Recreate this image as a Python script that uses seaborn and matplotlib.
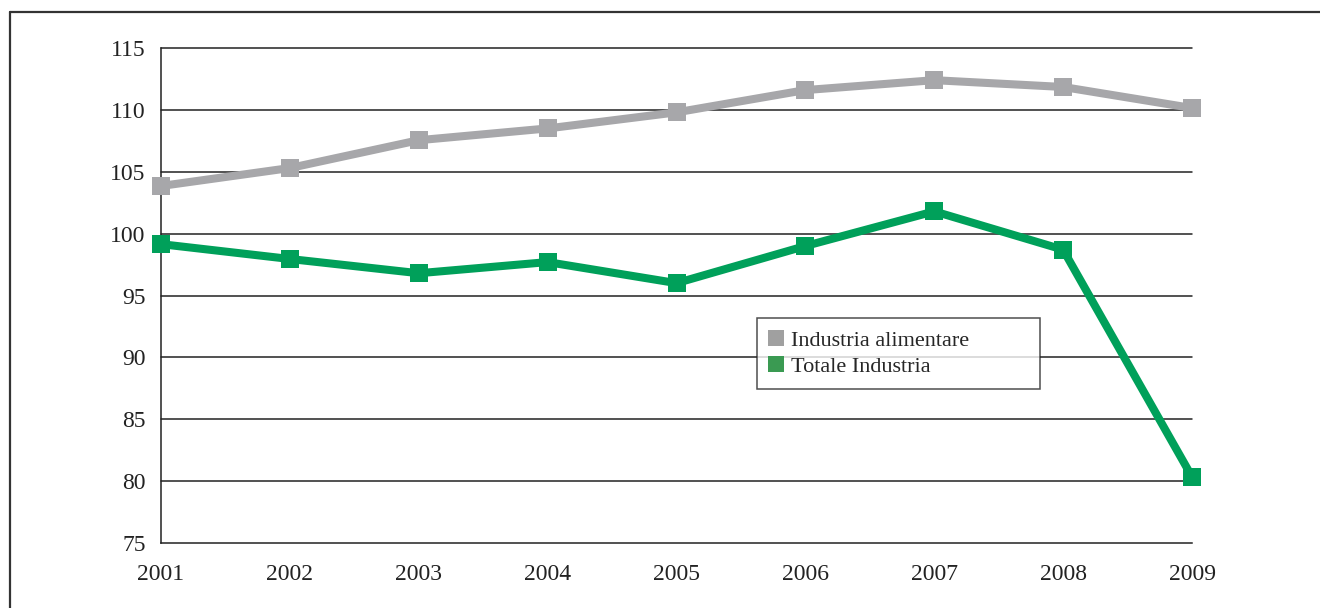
import matplotlib
matplotlib.use("Agg")
import matplotlib.pyplot as plt
from matplotlib.lines import Line2D
import seaborn as sns
import pandas as pd

years = [2001, 2002, 2003, 2004, 2005, 2006, 2007, 2008, 2009]
alimentare = [103.85, 105.3, 107.55, 108.5, 109.8, 111.6, 112.4, 111.85, 110.15]
totale = [99.15, 97.95, 96.8, 97.7, 96.0, 99.0, 101.8, 98.7, 80.35]
series_names = ["Industria alimentare", "Totale Industria"]
colors = ["#a7a7aa", "#00a05a"]
legend_colors = ["#a0a0a0", "#3a9a52"]
yticks = [75, 80, 85, 90, 95, 100, 105, 110, 115]

df = pd.DataFrame({
    "year": years * 2,
    "value": alimentare + totale,
    "serie": [series_names[0]] * len(years) + [series_names[1]] * len(years),
})

sns.set_style("white")
plt.rcParams["font.family"] = ["Liberation Serif", "DejaVu Serif"]

fig = plt.figure(figsize=(13.2, 6.08), dpi=100)
ax_w = (1192 - 161)
ax_h = (543 - 48)
ax = fig.add_axes([161/1320, 1 - 543/608, ax_w/1320, ax_h/608])

for y in yticks[1:]:
    ax.axhline(y, color="#222222", lw=1.1, zorder=1)

sns.lineplot(data=df, x="year", y="value", hue="serie", palette=colors,
             marker="s", markersize=13, markeredgewidth=0, linewidth=5.8,
             dashes=False, ax=ax, legend=False, zorder=3)
for line in ax.lines:
    line.set_clip_on(False)

ax.set_xlim(2001, 2009)
ax.set_ylim(75, 115)
ax.set_xticks(years)
ax.set_xticklabels([str(y) for y in years])
ax.set_yticks(yticks)
ax.tick_params(axis="both", length=0, labelsize=17, colors="#222222")
ax.tick_params(axis="x", pad=15)
ax.tick_params(axis="y", pad=11)
ax.set_xlabel("")
ax.set_ylabel("")
for s in ["top", "right"]:
    ax.spines[s].set_visible(False)
for s in ["left", "bottom"]:
    ax.spines[s].set_color("#222222")
    ax.spines[s].set_linewidth(1.1)

handles = [Line2D([], [], marker="s", color="none", markerfacecolor=c,
                  markeredgewidth=0, markersize=11) for c in legend_colors]
lx0 = (757 - 161) / ax_w
ly1 = (543 - 318) / ax_h
lw = (1040 - 757) / ax_w
lh = (390 - 318) / ax_h
leg = ax.legend(handles, series_names, loc="upper left",
                bbox_to_anchor=(lx0, ly1 - lh, lw, lh), mode="expand",
                frameon=True, fancybox=False, fontsize=16,
                handlelength=0.6, handletextpad=0.4, borderpad=0.55,
                labelspacing=0.25, borderaxespad=0)
leg.get_frame().set_edgecolor("#222222")
leg.get_frame().set_linewidth(1.1)
leg.set_zorder(5)

fig.add_artist(Line2D([10/1320, 10/1320], [0, 1 - 12/608], color="#333333", lw=1.6))
fig.add_artist(Line2D([10/1320, 1], [1 - 12/608, 1 - 12/608], color="#333333", lw=1.6))

fig.savefig("out.png", dpi=100, facecolor="white")
